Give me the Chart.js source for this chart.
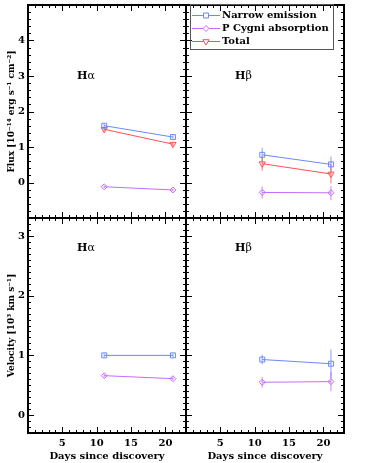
<!DOCTYPE html>
<html>
<head>
<meta charset="utf-8">
<script src="https://cdn.jsdelivr.net/npm/chart.js@4.4.0/dist/chart.umd.min.js"></script>
<style>
  html, body { margin: 0; padding: 0; background: #fff; }
  #wrap { position: relative; width: 388px; height: 463px; }
  #wrap canvas { position: absolute; left: 0; top: 0; }
</style>
</head>
<body>
<div id="wrap">
  <canvas id="c-tl" width="388" height="463"></canvas>
  <canvas id="c-tr" width="388" height="463"></canvas>
  <canvas id="c-bl" width="388" height="463"></canvas>
  <canvas id="c-br" width="388" height="463"></canvas>
</div>
<script>
// ── data ─────────────────────────────────────────────────────
const days = [11.1, 21.1];                 // days since discovery
const seriesNames = ['Narrow emission', 'P Cygni absorption', 'Total'];

// flux, 10^-14 erg s^-1 cm^-2
const fluxHaNarrow = [1.60, 1.28];
const fluxHaNarrowErr = [0.05, 0.05];
const fluxHaPcyg = [-0.12, -0.21];
const fluxHaPcygErr = [0.04, 0.04];
const fluxHaTotal = [1.50, 1.08];
const fluxHaTotalErr = [0.06, 0.07];

const fluxHbNarrow = [0.78, 0.51];
const fluxHbNarrowErr = [0.20, 0.22];
const fluxHbPcyg = [-0.28, -0.29];
const fluxHbPcygErr = [0.17, 0.20];
const fluxHbTotal = [0.53, 0.24];
const fluxHbTotalErr = [0.20, 0.27];

// velocity, 10^3 km s^-1
const velHaNarrow = [1.00, 1.00];
const velHaNarrowErr = [0.03, 0.03];
const velHaPcyg = [0.66, 0.61];
const velHaPcygErr = [0.03, 0.03];

const velHbNarrow = [0.93, 0.86];
const velHbNarrowErr = [0.08, 0.24];
const velHbPcyg = [0.55, 0.56];
const velHbPcygErr = [0.09, 0.16];

const xTitle = 'Days since discovery';
const fluxTitle = 'Flux [10⁻¹⁴ erg s⁻¹ cm⁻²]';
const velTitle = 'Velocity [10³ km s⁻¹]';

// ── styles ───────────────────────────────────────────────────
const FONT = '"DejaVu Serif", serif';
Chart.defaults.font.family = FONT;
Chart.defaults.font.size = 10;
Chart.defaults.font.weight = 'bold';
Chart.defaults.color = '#000';
Chart.defaults.animation = false;

const STY = [
    { color: '#6a88ff', err: 'rgba(106,136,255,0.55)', shape: 'rect', r: 3.5, rot: 0 },
    { color: '#c46cff', err: 'rgba(196,108,255,0.55)', shape: 'rectRot', r: 3, rot: 0 },
    { color: '#ff5050', err: 'rgba(255,80,80,0.55)', shape: 'triangle', r: 3.6, rot: 180 },
];

function series(k, vals, errs) {
    const s = STY[k];
    return {
        label: seriesNames[k],
        data: days.map((d, i) => ({ x: d, y: vals[i] })),
        errors: errs,
        errColor: s.err,
        borderColor: s.color,
        borderWidth: 1,
        pointStyle: s.shape,
        pointRadius: s.r,
        pointRotation: s.rot,
        pointBorderColor: s.color,
        pointBorderWidth: 1,
        pointBackgroundColor: 'rgba(0,0,0,0)',
        fill: false,
        tension: 0,
    };
}

// small canvas: line with open marker, for legend entries
function legendIcon(k) {
    const s = STY[k];
    const c = document.createElement('canvas');
    c.width = 28; c.height = 10;
    const g = c.getContext('2d');
    g.strokeStyle = s.color; g.lineWidth = 1;
    g.beginPath(); g.moveTo(0, 5.5); g.lineTo(28, 5.5); g.stroke();
    g.fillStyle = '#fff';
    Chart.helpers.drawPoint(g, { pointStyle: s.shape, radius: s.r, rotation: s.rot, borderWidth: 1 }, 14, 5.5);
    return c;
}

// ── plugins ──────────────────────────────────────────────────
const errorBars = {
    id: 'errorBars',
    beforeDatasetsDraw(chart) {
        const { ctx } = chart;
        const y = chart.scales.y;
        chart.data.datasets.forEach((ds, i) => {
            if (!ds.errors) return;
            const meta = chart.getDatasetMeta(i);
            ctx.save();
            ctx.strokeStyle = ds.errColor;
            ctx.lineWidth = 1.5;
            meta.data.forEach((pt, j) => {
                const v = ds.data[j].y, e = ds.errors[j];
                ctx.beginPath();
                ctx.moveTo(pt.x, y.getPixelForValue(v - e));
                ctx.lineTo(pt.x, y.getPixelForValue(v + e));
                ctx.stroke();
            });
            ctx.restore();
        });
    },
};

// IDL-style frame: box plus inward major/minor ticks on all sides
const frameTicks = {
    id: 'frameTicks',
    afterDraw(chart, args, o) {
        const { ctx, chartArea: a } = chart;
        const { x, y } = chart.scales;
        ctx.save();
        ctx.strokeStyle = '#000';
        ctx.lineWidth = 1;
        const nx0 = Math.ceil(x.min / o.xMinor - 1e-9), nx1 = Math.floor(x.max / o.xMinor + 1e-9);
        for (let n = nx0; n <= nx1; n++) {
            const v = n * o.xMinor;
            const major = Math.abs(v / o.xMajor - Math.round(v / o.xMajor)) < 1e-6;
            const L = major ? 6 : 3;
            const px = Math.round(x.getPixelForValue(v)) + 0.5;
            ctx.beginPath();
            ctx.moveTo(px, a.bottom); ctx.lineTo(px, a.bottom - L);
            ctx.moveTo(px, a.top); ctx.lineTo(px, a.top + L);
            ctx.stroke();
        }
        const ny0 = Math.ceil(y.min / o.yMinor - 1e-9), ny1 = Math.floor(y.max / o.yMinor + 1e-9);
        for (let n = ny0; n <= ny1; n++) {
            const v = n * o.yMinor;
            const major = Math.abs(v / o.yMajor - Math.round(v / o.yMajor)) < 1e-6;
            const L = major ? 6 : 3;
            const py = Math.round(y.getPixelForValue(v)) + 0.5;
            ctx.beginPath();
            ctx.moveTo(a.left, py); ctx.lineTo(a.left + L, py);
            ctx.moveTo(a.right, py); ctx.lineTo(a.right - L, py);
            ctx.stroke();
        }
        ctx.lineWidth = 2;
        ctx.strokeRect(a.left, a.top, a.right - a.left, a.bottom - a.top);
        ctx.restore();
    },
};

// "Hα" / "Hβ" panel label at data coordinates
const lineLabel = {
    id: 'lineLabel',
    afterDraw(chart, args, o) {
        if (!o.greek) return;
        const { ctx } = chart;
        const px = chart.scales.x.getPixelForValue(o.x);
        const py = chart.scales.y.getPixelForValue(o.y);
        ctx.save();
        ctx.fillStyle = '#000';
        ctx.textBaseline = 'middle';
        ctx.font = 'bold 11px ' + FONT;
        ctx.fillText('H', px, py);
        const w = ctx.measureText('H').width;
        ctx.font = '11px ' + FONT;
        ctx.fillText(o.greek, px + w, py);
        ctx.restore();
    },
};

// move the legend into the upper-right of the plot and frame it
const legendBox = {
    id: 'legendBox',
    beforeDraw(chart, args, o) {
        if (!o.left) return;
        const lg = chart.legend;
        lg.left = o.left; lg.top = o.top;
        lg.right = o.left + 160; lg.bottom = o.top + 60;
        lg.width = 160; lg.height = 60;
    },
    afterDraw(chart, args, o) {
        if (!o.box) return;
        const { ctx } = chart;
        const [x0, y0, x1, y1] = o.box;
        ctx.save();
        ctx.strokeStyle = '#555';
        ctx.lineWidth = 1;
        ctx.strokeRect(x0 + 0.5, y0 + 0.5, x1 - x0, y1 - y0);
        ctx.restore();
    },
};

// ── panels ───────────────────────────────────────────────────
const fixFit = (w, h) => (s) => {
    if (w !== undefined) s.width = w;
    if (h !== undefined) s.height = h;
    s.paddingTop = s.paddingBottom = s.paddingLeft = s.paddingRight = 0;
};

function panel(id, cfg) {
    const yLab = (v) => (v > cfg.yMin + 1e-6 && v < cfg.yMax - 1e-6 && Number.isInteger(v) ? v : '');
    new Chart(document.getElementById(id), {
        type: 'line',
        data: { datasets: cfg.datasets },
        options: {
            responsive: false,
            layout: { padding: cfg.pad },
            plugins: {
                legend: cfg.legend ? {
                    display: true,
                    position: 'chartArea',
                    align: 'start',
                    labels: {
                        font: { size: 10, weight: 'bold', family: FONT },
                        color: '#000',
                        padding: 3,
                        usePointStyle: true,
                        pointStyleWidth: 22,
                        textAlign: 'left',
                        generateLabels: (ch) => ch.data.datasets.map((ds, i) => ({
                            text: ds.label, pointStyle: legendIcon(i), fontColor: '#000',
                            hidden: false, datasetIndex: i, lineWidth: 0, textAlign: 'left',
                        })),
                    },
                } : { display: false },
                tooltip: { enabled: false },
                frameTicks: { xMinor: 1, xMajor: 5, yMinor: cfg.yMinor, yMajor: 1 },
                lineLabel: cfg.tag,
                legendBox: cfg.legend ? { left: 192, top: 7, box: [190, 4, 333, 49] } : {},
            },
            scales: {
                x: {
                    type: 'linear', min: 0, max: 23,
                    display: cfg.showX,
                    grid: { display: false, drawTicks: false },
                    border: { display: false },
                    ticks: { stepSize: 5, includeBounds: false, maxRotation: 0, padding: 4,
                             callback: (v) => (v > 0 ? v : '') },
                    title: { display: true, text: xTitle, padding: { top: 0, bottom: 1 } },
                    afterFit: fixFit(undefined, cfg.showX ? 30 : 0),
                },
                y: {
                    type: 'linear', min: cfg.yMin, max: cfg.yMax,
                    display: cfg.showY,
                    grid: { display: false, drawTicks: false },
                    border: { display: false },
                    ticks: { stepSize: 1, includeBounds: false, padding: 3, callback: yLab },
                    title: { display: true, text: cfg.yTitle, font: { size: 9, weight: 'bold' },
                             padding: { top: 6, bottom: 0 } },
                    afterFit: fixFit(cfg.showY ? 28 : 0, undefined),
                },
            },
        },
        plugins: [errorBars, frameTicks, lineLabel, legendBox],
    });
}

panel('c-tl', {
    pad: { left: 0, top: 2, right: 202, bottom: 245 },
    showX: false, showY: true, yMin: -1, yMax: 5, yMinor: 0.2, yTitle: fluxTitle,
    tag: { greek: 'α', x: 7.15, y: 3.0 },
    datasets: [
        series(0, fluxHaNarrow, fluxHaNarrowErr),
        series(1, fluxHaPcyg, fluxHaPcygErr),
        series(2, fluxHaTotal, fluxHaTotalErr),
    ],
});

panel('c-tr', {
    pad: { left: 186, top: 2, right: 44, bottom: 245 },
    showX: false, showY: false, yMin: -1, yMax: 5, yMinor: 0.2, yTitle: fluxTitle,
    tag: { greek: 'β', x: 7.15, y: 3.0 },
    legend: true,
    datasets: [
        series(0, fluxHbNarrow, fluxHbNarrowErr),
        series(1, fluxHbPcyg, fluxHbPcygErr),
        series(2, fluxHbTotal, fluxHbTotalErr),
    ],
});

panel('c-bl', {
    pad: { left: 0, top: 218, right: 202, bottom: 0 },
    showX: true, showY: true, yMin: -0.3, yMax: 3.3, yMinor: 0.1, yTitle: velTitle,
    tag: { greek: 'α', x: 7.15, y: 2.79 },
    datasets: [
        series(0, velHaNarrow, velHaNarrowErr),
        series(1, velHaPcyg, velHaPcygErr),
    ],
});

panel('c-br', {
    pad: { left: 186, top: 218, right: 44, bottom: 0 },
    showX: true, showY: false, yMin: -0.3, yMax: 3.3, yMinor: 0.1, yTitle: velTitle,
    tag: { greek: 'β', x: 7.15, y: 2.79 },
    datasets: [
        series(0, velHbNarrow, velHbNarrowErr),
        series(1, velHbPcyg, velHbPcygErr),
    ],
});
</script>
</body>
</html>
